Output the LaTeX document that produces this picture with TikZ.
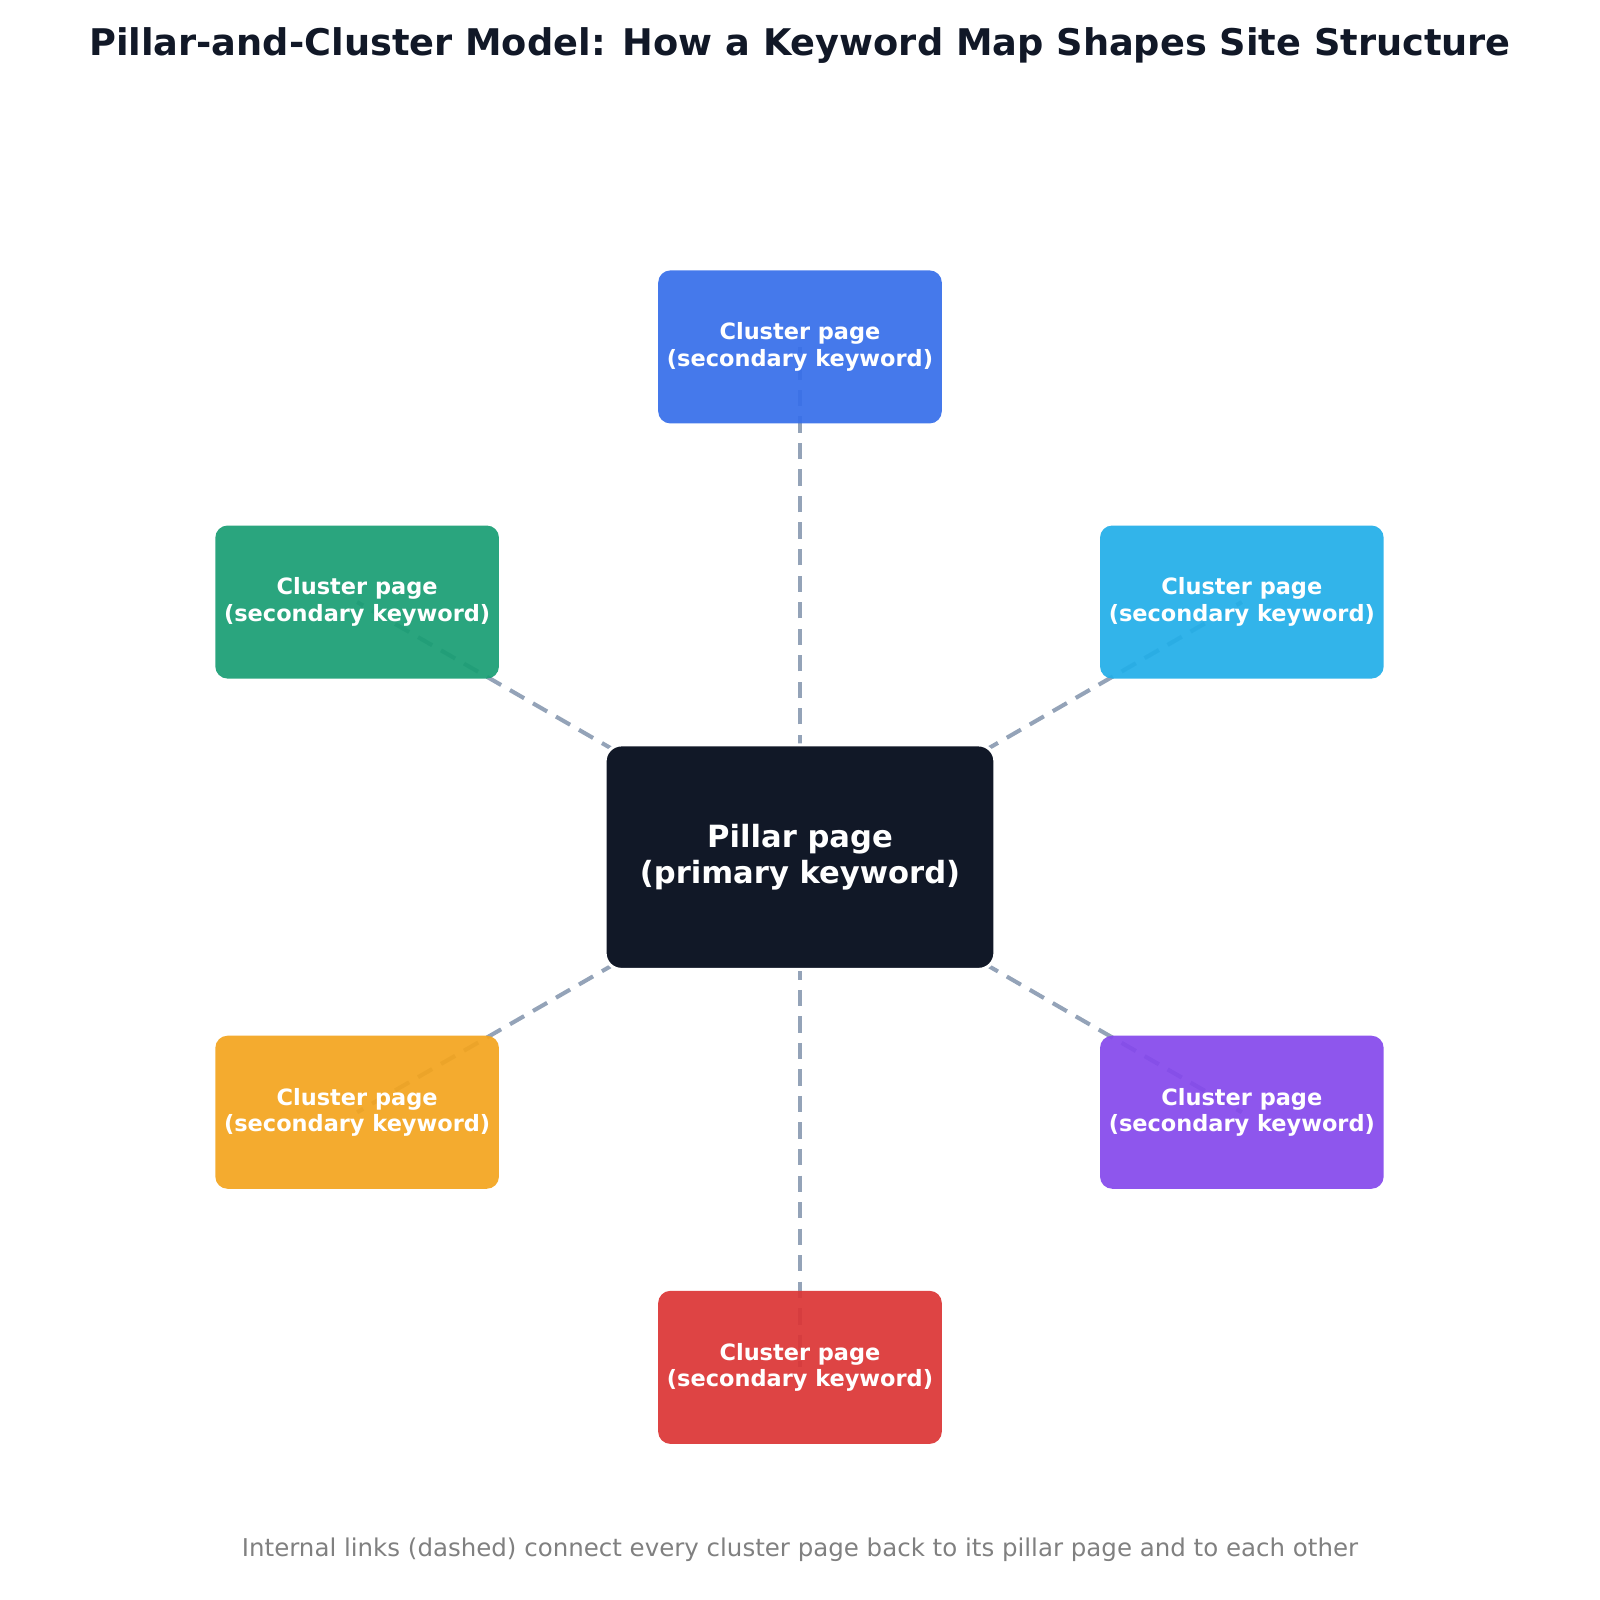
\documentclass[tikz,border=0pt]{standalone}
\usepackage{fontspec}
\setmainfont{DejaVu Sans}
\usepackage{xcolor}
\definecolor{pillarc}{HTML}{111827}
\definecolor{linkc}{HTML}{94A3B8}
\definecolor{bluec}{HTML}{376FEA}
\definecolor{greenc}{HTML}{1A9E74}
\definecolor{cyanc}{HTML}{22AEE8}
\definecolor{orangec}{HTML}{F3A51F}
\definecolor{purplec}{HTML}{8549EC}
\definecolor{redc}{HTML}{DC3636}
\begin{document}
\begin{tikzpicture}[x=0.5pt,y=-0.5pt,
  cluster/.style={rounded corners=6pt,minimum width=139pt,minimum height=75pt,align=center,text=white,font=\fontsize{11}{13}\selectfont\bfseries,fill opacity=0.93,text opacity=1},
  link/.style={linkc,line width=2pt,dash pattern=on 8pt off 5pt}]
\useasboundingbox (0,0) rectangle (1568,1568);
%Text
\node (title) at (784,45) {\fontsize{18}{22}\selectfont\bfseries\color{pillarc}Pillar-and-Cluster Model: How a Keyword Map Shapes Site Structure};
\node (note) at (784,1519) {\fontsize{12}{14}\selectfont\color{gray}Internal links (dashed) connect every cluster page back to its pillar page and to each other};
%Nodes
\coordinate (p) at (784,840);
\coordinate (c1) at (784,340);
\coordinate (c2) at (1217,590);
\coordinate (c3) at (1217,1090);
\coordinate (c4) at (784,1340);
\coordinate (c5) at (350,1090);
\coordinate (c6) at (350,590);
\foreach \c in {c1,c2,c3,c4,c5,c6} \draw[link] (p) -- (\c);
\node[cluster,fill=bluec] (k1) at (c1) {Cluster page\\(secondary keyword)};
\node[cluster,fill=cyanc] (k2) at (c2) {Cluster page\\(secondary keyword)};
\node[cluster,fill=purplec] (k3) at (c3) {Cluster page\\(secondary keyword)};
\node[cluster,fill=redc] (k4) at (c4) {Cluster page\\(secondary keyword)};
\node[cluster,fill=orangec] (k5) at (c5) {Cluster page\\(secondary keyword)};
\node[cluster,fill=greenc] (k6) at (c6) {Cluster page\\(secondary keyword)};
\node[rounded corners=8pt,minimum width=191pt,minimum height=110pt,fill=pillarc,draw=white,line width=1.5pt,align=center,text=white,font=\fontsize{15}{18}\selectfont\bfseries] (pillar) at (p) {Pillar page\\(primary keyword)};
\end{tikzpicture}
\end{document}
